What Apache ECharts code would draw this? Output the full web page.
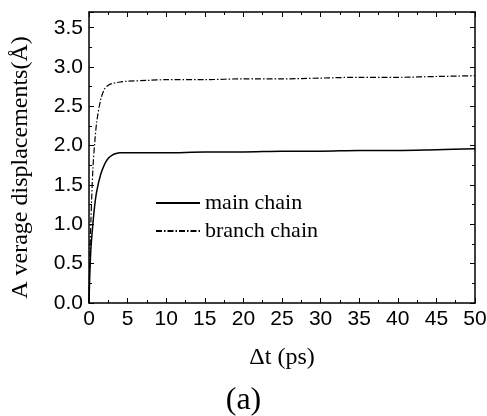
<!DOCTYPE html>
<html>
<head>
<meta charset="utf-8">
<script src="https://cdn.jsdelivr.net/npm/echarts@6/dist/echarts.min.js"></script>
<style>
  html, body { margin: 0; padding: 0; background: #fff; }
  #chart { width: 487px; height: 416px; }
</style>
</head>
<body>
<div id="chart"></div>
<script>
// time points (ps) and displacements
var times = [0, 0.1, 0.25, 0.5, 0.75, 1, 1.5, 2, 2.5, 3, 3.5, 4, 5, 7.5, 10, 15, 20, 25, 30, 35, 40, 45, 50];
var mainChain = [0, 0.35, 0.7, 1.0, 1.25, 1.42, 1.63, 1.76, 1.84, 1.88, 1.9, 1.91, 1.91, 1.91, 1.91, 1.92, 1.92, 1.93, 1.93, 1.94, 1.94, 1.95, 1.96];
var branchChain = [0, 0.55, 1.05, 1.7, 2.05, 2.3, 2.58, 2.72, 2.77, 2.79, 2.8, 2.81, 2.82, 2.83, 2.84, 2.84, 2.85, 2.85, 2.86, 2.87, 2.87, 2.88, 2.89];
var names = ['main chain', 'branch chain'];

function pairs(ys) {
    return times.map(function (t, i) { return [t, ys[i]]; });
}

var chart = echarts.init(document.getElementById('chart'));

var tickStyle = { color: '#000', width: 1 };
var hiddenAxis = {
    axisLine: { show: true, onZero: false, lineStyle: { color: '#000', width: 1.5 } },
    axisTick: { show: true, inside: true, length: 5, lineStyle: tickStyle },
    minorTick: { show: true, splitNumber: 2, length: 3, lineStyle: tickStyle },
    axisLabel: { show: false },
    splitLine: { show: false }
};

var option = {
    animation: false,
    backgroundColor: '#fff',
    grid: { left: 89, right: 12, top: 12, bottom: 113, outerBoundsMode: 'none', containLabel: false },
    legend: {
        data: names,
        orient: 'vertical',
        left: 150,
        top: 187,
        itemWidth: 44,
        itemHeight: 10,
        itemGap: 6,
        itemStyle: { opacity: 0 },
        textStyle: { fontFamily: 'Liberation Serif', fontSize: 22, color: '#000' }
    },
    xAxis: [
        {
            type: 'value', min: 0, max: 50, interval: 5,
            name: 'Δt (ps)', nameLocation: 'middle', nameGap: 43,
            nameTextStyle: { fontFamily: 'Liberation Serif', fontSize: 24, color: '#000' },
            axisLine: { show: true, onZero: false, lineStyle: { color: '#000', width: 1.5 } },
            axisTick: { show: true, inside: true, length: 5, lineStyle: tickStyle },
            minorTick: { show: true, splitNumber: 2, length: 3, lineStyle: tickStyle },
            axisLabel: { fontFamily: 'Liberation Sans', fontSize: 21, color: '#000', margin: 6 },
            splitLine: { show: false }
        },
        Object.assign({ type: 'value', min: 0, max: 50, interval: 5, position: 'top' }, hiddenAxis)
    ],
    yAxis: [
        {
            type: 'value', min: 0, max: 3.7, interval: 0.5,
            name: 'A verage displacements(Å)', nameLocation: 'middle', nameGap: 56,
            nameTextStyle: { fontFamily: 'Liberation Serif', fontSize: 24, color: '#000', padding: [0, 20, 0, 0] },
            axisLine: { show: true, onZero: false, lineStyle: { color: '#000', width: 1.5 } },
            axisTick: { show: true, inside: true, length: 5, lineStyle: tickStyle },
            minorTick: { show: true, splitNumber: 2, length: 3, lineStyle: tickStyle },
            axisLabel: {
                fontFamily: 'Liberation Sans', fontSize: 21, color: '#000', margin: 6,
                formatter: function (v) { return v > 3.6 ? '' : v.toFixed(1); }
            },
            splitLine: { show: false }
        },
        Object.assign({ type: 'value', min: 0, max: 3.7, interval: 0.5, position: 'right' }, hiddenAxis)
    ],
    graphic: [{
        type: 'text', left: 'center', top: 385,
        style: { text: '(a)', font: '32px "Liberation Serif"', fill: '#000' }
    }],
    series: [
        {
            name: names[0], type: 'line', smooth: 0.3, symbol: 'none',
            lineStyle: { color: '#000', width: 1.5, type: 'solid' },
            itemStyle: { color: '#000' },
            data: pairs(mainChain)
        },
        {
            name: names[1], type: 'line', smooth: 0.3, symbol: 'none',
            lineStyle: { color: '#000', width: 1.2, type: [6, 2, 1.5, 2] },
            itemStyle: { color: '#000' },
            data: pairs(branchChain)
        }
    ]
};

chart.setOption(option);
</script>
</body>
</html>
